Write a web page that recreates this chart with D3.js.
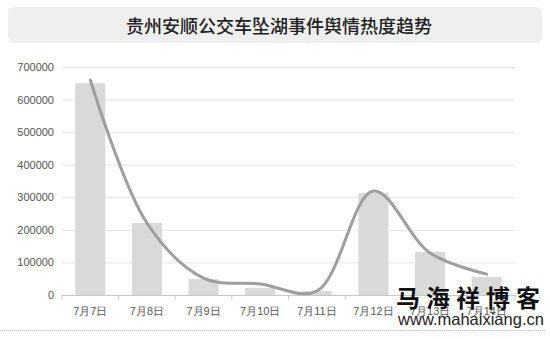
<!DOCTYPE html>
<html>
<head>
<meta charset="utf-8">
<script src="https://cdn.jsdelivr.net/npm/d3@7"></script>
<style>
  body { margin: 0; background: #fff; }
  svg { display: block; font-family: "Noto Sans CJK SC", "Liberation Sans", sans-serif; }
</style>
</head>
<body>
<svg id="chart"></svg>
<script>
const width = 550;
const height = 339;

// data
const days = ["7月7日", "7月8日", "7月9日", "7月10日", "7月11日", "7月12日", "7月13日", "7月14日"];
const barValues = [650000, 221000, 49000, 22000, 12000, 313000, 132000, 55000];
const lineValues = [660000, 221000, 52000, 34000, 12000, 319000, 129000, 64000];
const yTicks = [0, 100000, 200000, 300000, 400000, 500000, 600000, 700000];

const svg = d3.select("#chart")
    .attr("width", width)
    .attr("height", height);

// title box
svg.append("rect")
    .attr("x", 8)
    .attr("y", 7)
    .attr("width", 534)
    .attr("height", 36)
    .attr("rx", 6)
    .attr("fill", "#efefef");

svg.append("text")
    .attr("x", 279)
    .attr("y", 25)
    .attr("text-anchor", "middle")
    .attr("dominant-baseline", "central")
    .style("font-size", "18px")
    .style("font-weight", "500")
    .attr("fill", "#222")
    .text("贵州安顺公交车坠湖事件舆情热度趋势");

const x = d3.scaleBand()
    .domain(days)
    .range([62, 515])
    .paddingInner(0.47)
    .paddingOuter(0.235);

const y = d3.scaleLinear()
    .domain([0, 700000])
    .range([295, 67]);

// gridlines + y labels
svg.append("g")
    .attr("transform", "translate(62,0)")
    .call(d3.axisLeft(y).tickValues(yTicks).tickSize(-453).tickPadding(8).tickFormat(d3.format("d")))
    .call(g => g.select(".domain").remove())
    .call(g => g.selectAll(".tick line").attr("stroke", "#e4e4e4"))
    .call(g => g.selectAll(".tick text")
        .attr("fill", "#555")
        .style("font-size", "11px")
        .style("font-family", "'Liberation Sans', sans-serif"));

// bars
svg.append("g")
    .selectAll("rect")
    .data(days)
    .enter()
    .append("rect")
    .attr("x", d => x(d))
    .attr("y", (d, i) => y(barValues[i]))
    .attr("width", x.bandwidth())
    .attr("height", (d, i) => y(0) - y(barValues[i]))
    .attr("fill", "#d9d9d9");

// x axis
const xAxis = svg.append("g")
    .attr("transform", `translate(0,${y(0)})`)
    .call(d3.axisBottom(x).tickSize(0).tickPadding(12));

xAxis.select(".domain").attr("stroke", "#c8c8c8");
xAxis.selectAll(".tick text")
    .attr("fill", "#595959")
    .style("font-size", "11px");

const gap = (x.step() - x.bandwidth()) / 2;
const boundaries = days.map(d => x(d) - gap).concat([x(days[days.length - 1]) + x.bandwidth() + gap]);

xAxis.selectAll(".sep")
    .data(boundaries)
    .enter()
    .append("line")
    .attr("class", "sep")
    .attr("x1", d => d)
    .attr("x2", d => d)
    .attr("y1", 0)
    .attr("y2", 5)
    .attr("stroke", "#c8c8c8");

// smooth line
const line = d3.line()
    .x((d, i) => x(days[i]) + x.bandwidth() / 2)
    .y(d => y(d))
    .curve(d3.curveCatmullRom.alpha(0.5));

svg.append("path")
    .datum(lineValues)
    .attr("d", line)
    .attr("fill", "none")
    .attr("stroke", "#9e9e9e")
    .attr("stroke-width", 3)
    .attr("stroke-linecap", "round");

// dotted bottom rule
svg.append("line")
    .attr("x1", 0)
    .attr("x2", 546)
    .attr("y1", 330.5)
    .attr("y2", 330.5)
    .attr("stroke", "#bbb")
    .attr("stroke-dasharray", "1,1");

// watermark
svg.append("text")
    .attr("x", 471)
    .attr("y", 307)
    .attr("text-anchor", "middle")
    .style("font-size", "24px")
    .style("font-weight", "bold")
    .style("letter-spacing", "6px")
    .attr("fill", "#111")
    .text("马海祥博客");

svg.append("text")
    .attr("x", 471)
    .attr("y", 325)
    .attr("text-anchor", "middle")
    .style("font-size", "16.5px")
    .style("font-family", "'Liberation Sans', sans-serif")
    .attr("fill", "#222")
    .text("www.mahaixiang.cn");
</script>
</body>
</html>
